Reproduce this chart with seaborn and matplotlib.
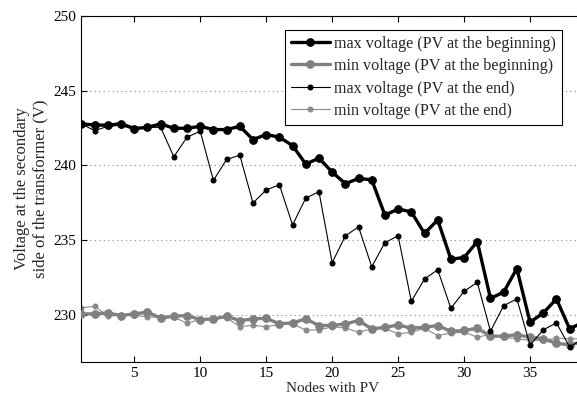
import numpy as np
import pandas as pd
import matplotlib
matplotlib.use("Agg")
import matplotlib.pyplot as plt
import seaborn as sns

nodes = list(range(1, 40))

max_begin = [242.78, 242.71, 242.69, 242.80, 242.47, 242.55, 242.78, 242.49, 242.49, 242.62,
             242.40, 242.40, 242.62, 241.73, 242.07, 241.89, 241.33, 240.09, 240.49, 239.56,
             238.78, 239.13, 239.04, 236.67, 237.09, 236.89, 235.45, 236.36, 233.73, 233.84,
             234.91, 231.10, 231.53, 233.10, 229.51, 230.13, 231.07, 229.07, 229.50]

min_begin = [230.07, 230.07, 230.13, 229.96, 230.07, 230.18, 229.80, 229.91, 229.96, 229.69,
             229.73, 229.91, 229.62, 229.73, 229.78, 229.40, 229.47, 229.73, 229.29, 229.30,
             229.40, 229.62, 229.07, 229.16, 229.33, 229.11, 229.18, 229.29, 228.90, 228.96,
             229.11, 228.58, 228.58, 228.67, 228.51, 228.40, 228.10, 228.00, 228.20]

max_end = [242.78, 242.33, 242.62, 242.69, 242.40, 242.55, 242.55, 240.58, 241.89, 242.29,
           239.00, 240.40, 240.69, 237.49, 238.36, 238.71, 236.02, 237.82, 238.24, 233.49,
           235.29, 235.89, 233.22, 234.84, 235.29, 230.91, 232.40, 233.02, 230.44, 231.58,
           232.18, 228.91, 230.62, 231.07, 227.98, 229.00, 229.47, 227.85, 228.40]

min_end = [230.47, 230.58, 229.90, 230.00, 230.00, 229.85, 229.85, 229.85, 229.45, 229.70,
           229.75, 229.80, 229.22, 229.30, 229.22, 229.35, 229.40, 228.98, 229.00, 229.20,
           229.13, 228.84, 229.07, 229.10, 228.73, 228.84, 229.10, 228.62, 228.78, 228.85,
           228.51, 228.70, 228.50, 228.40, 228.30, 228.30, 228.44, 228.40, 228.40]

labels = ["max voltage (PV at the beginning)",
          "min voltage (PV at the beginning)",
          "max voltage (PV at the end)",
          "min voltage (PV at the end)"]

x_ticks = [5, 10, 15, 20, 25, 30, 35]
y_ticks = [230, 235, 240, 245, 250]

sns.set_style("white")
plt.rcParams["font.family"] = ["Liberation Serif", "DejaVu Serif"]

fig = plt.figure(figsize=(5.77, 3.98), dpi=100)
ax = fig.add_axes([0.1412, 0.0912, 1.0101 - 0.1412, 0.9598 - 0.0912])

series = [max_begin, min_begin, max_end, min_end]
styles = [
    dict(color="black", linewidth=2.4, marker="o", markersize=5.5, zorder=4),
    dict(color="#808080", linewidth=2.4, marker="o", markersize=5.5, zorder=3),
    dict(color="black", linewidth=0.8, marker="o", markersize=3.6, zorder=5),
    dict(color="#8a8a8a", linewidth=0.8, marker="o", markersize=3.6, zorder=2),
]
for vals, lab, st in zip(series, labels, styles):
    df = pd.DataFrame({"node": nodes, "v": vals})
    sns.lineplot(data=df, x="node", y="v", ax=ax, label=lab,
                 markeredgecolor=st["color"], clip_on=True, **st)

ax.set_xlim(1, 39)
ax.set_ylim(226.87, 250)
ax.set_xticks(x_ticks)
ax.set_yticks(y_ticks)
ax.yaxis.grid(True, linestyle=(0, (1, 3)), color="#888888", linewidth=0.8)
ax.xaxis.grid(False)
ax.tick_params(direction="in", length=4, width=0.8, colors="black", labelsize=11,
               top=True, right=True, bottom=True, left=True)
for s in ax.spines.values():
    s.set_color("black")
    s.set_linewidth(0.8)

ax.set_xlabel("Nodes with PV", fontsize=11, labelpad=2)
ax.set_ylabel("Voltage at the secondary\nside of the transformer (V)", fontsize=12, labelpad=4)

leg = ax.legend(loc="upper right", bbox_to_anchor=(562 / 577, 1 - 30 / 398),
                bbox_transform=fig.transFigure, fontsize=11.6, frameon=True,
                fancybox=False, edgecolor="black", framealpha=1,
                handlelength=2.4, labelspacing=0.4, borderpad=0.35, handletextpad=0.3,
                borderaxespad=0)
leg.get_frame().set_linewidth(0.8)

fig.savefig("out.png", dpi=100)
